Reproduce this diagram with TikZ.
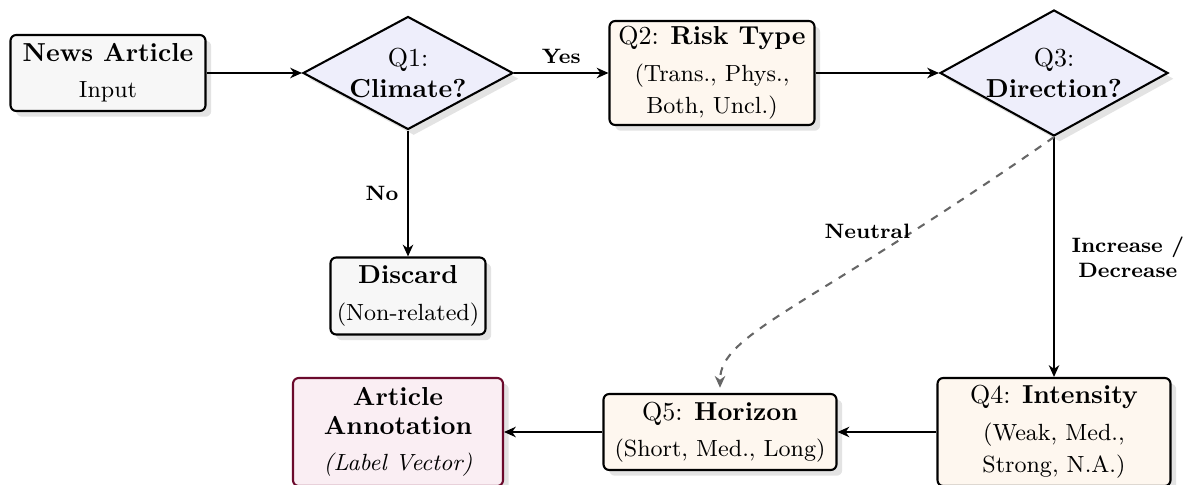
\documentclass[tikz,border=0pt]{standalone}
\usetikzlibrary{shapes.geometric, arrows.meta, shadows}
\definecolor{ingray}{HTML}{F7F7F7}
\definecolor{qcream}{HTML}{FEF7EF}
\definecolor{dlav}{HTML}{EEEEFB}
\definecolor{artfill}{HTML}{FAEEF3}
\definecolor{artdraw}{HTML}{6B0A2C}
\definecolor{shadowc}{HTML}{E3E3E3}
\definecolor{dashc}{HTML}{666666}
\def\pxu{0.3846pt}
\tikzset{
  shad/.style={drop shadow={shadow xshift=2.2pt, shadow yshift=-2.2pt, fill=shadowc, opacity=1}},
  base/.style={draw=black, thick, rounded corners=2.2pt, align=center, inner sep=0pt, font=\small, shad},
  inbox/.style={base, fill=ingray},
  qbox/.style={base, fill=qcream},
  artbox/.style={base, fill=artfill, draw=artdraw},
  dia/.style={diamond, draw=black, thick, fill=dlav, inner sep=0pt, shad},
  flow/.style={thick, -{Stealth[length=4.5pt, width=4pt, inset=1.4pt]}},
  flowdash/.style={thick, dashed, draw=dashc, -{Stealth[length=4.5pt, width=4pt, inset=1.4pt]}},
  lbl/.style={font=\footnotesize\bfseries, text=black}
}
\begin{document}
\begin{tikzpicture}[x=\pxu, y=-\pxu]
\useasboundingbox (0,0) rectangle (1184,485);

\node[inbox, minimum width=195*\pxu, minimum height=76*\pxu] (news) at (108,73)
  {{\normalsize\bfseries News Article}\\[3pt] Input};

\node[dia, minimum width=210*\pxu, minimum height=113*\pxu,
  label={[align=center, font=\normalsize]center:{Q1:\\\textbf{Climate?}}}] (q1) at (408,73) {};

\node[qbox, minimum width=205*\pxu, minimum height=104*\pxu] (q2) at (712,73)
  {{\normalsize Q2: \textbf{Risk Type}}\\[3pt] (Trans., Phys.,\\[1.5pt] Both, Uncl.)};

\node[dia, minimum width=228*\pxu, minimum height=126*\pxu,
  label={[align=center, font=\normalsize]center:{Q3:\\\textbf{Direction?}}}] (q3) at (1054,73) {};

\node[inbox, minimum width=155*\pxu, minimum height=77*\pxu] (discard) at (408,296)
  {{\normalsize\bfseries Discard}\\[3pt] (Non-related)};

\node[qbox, minimum width=233*\pxu, minimum height=108*\pxu] (q4) at (1054,432)
  {{\normalsize Q4: \textbf{Intensity}}\\[3pt] (Weak, Med.,\\[1.5pt] Strong, N.A.)};

\node[qbox, minimum width=233*\pxu, minimum height=76*\pxu] (q5) at (720,432)
  {{\normalsize Q5: \textbf{Horizon}}\\[3pt] (Short, Med., Long)};

\node[artbox, minimum width=210*\pxu, minimum height=108*\pxu] (art) at (398,432)
  {{\normalsize\bfseries Article}\\{\normalsize\bfseries Annotation}\\[3pt] \textit{(Label Vector)}};

\draw[flow] (news.east) -- (q1.west);
\draw[flow] (q1.east) -- node[lbl, above] {Yes} (q2.west);
\draw[flow] (q2.east) -- (q3.west);
\draw[flow] (q1.south) -- node[lbl, left] {No} (discard.north);
\draw[flow] (q3.south) -- node[lbl, right, align=center, xshift=3pt] {Increase /\\Decrease} (q4.north);
\draw[flowdash, shorten >=2pt] (q3.south) .. controls +(-246,172) and +(0,-60) .. (q5.north)
  node[lbl, pos=0.22, anchor=east, inner sep=1pt] {Neutral};
\draw[flow] (q4.west) -- (q5.east);
\draw[flow] (q5.west) -- (art.east);
\end{tikzpicture}
\end{document}
